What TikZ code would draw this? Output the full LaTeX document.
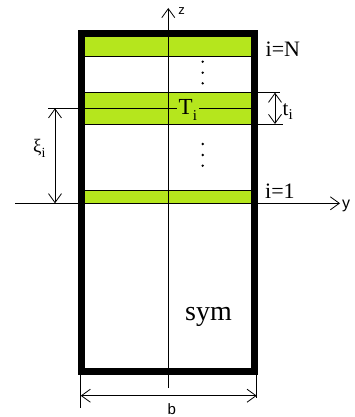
\documentclass[tikz,border=0pt]{standalone}
\usepackage{fontspec}
\setmainfont{Liberation Serif}
\newfontfamily\sansf{Liberation Sans}
\usetikzlibrary{arrows.meta}
\definecolor{lime}{RGB}{181,230,29}
\tikzset{
  thin line/.style={line width=0.8pt},
  dimarrow/.style={line width=0.8pt,{Straight Barb[length=9pt,width=13pt]}-{Straight Barb[length=9pt,width=13pt]}},
  axisarrow/.style={line width=0.8pt,-{Straight Barb[length=9pt,width=13pt]}},
  band/.style={fill=lime,draw=none},
  lab/.style={inner sep=0pt},
  dotmark/.style={circle,fill=black,inner sep=0pt,minimum size=2.6pt},
}
\begin{document}
\begin{tikzpicture}[x=1pt,y=-1pt]
\useasboundingbox (0,0) rectangle (355,417);
% green bands
\fill[band] (85,37) rectangle (251,56);
\fill[band] (85,92.7) rectangle (251,124);
\fill[band] (85,190) rectangle (251,203.3);
% coordinates
\coordinate (zbot) at (168.3,388);
\coordinate (ztop) at (168.3,8);
\coordinate (yleft) at (15,203.3);
\coordinate (yright) at (340,203.3);
\coordinate (xitop) at (48,108.3);
\coordinate (xiA) at (55,108.3);
\coordinate (xiB) at (55,203.3);
\coordinate (midR) at (251,108.3);
\coordinate (ttopL) at (85,92.7);
\coordinate (ttopR) at (280,92.7);
\coordinate (tbotL) at (85,124);
\coordinate (tbotR) at (283,124);
\coordinate (tA) at (275,92.7);
\coordinate (tB) at (275,124);
\coordinate (topbL) at (85,56);
\coordinate (topbR) at (251,56);
\coordinate (botbL) at (85,190);
\coordinate (botbR) at (251,190);
\coordinate (bA) at (80.7,395.7);
\coordinate (bB) at (256.7,395.7);
\coordinate (bLt) at (80.7,375);
\coordinate (bLb) at (80.7,408);
\coordinate (bRt) at (256.7,375);
\coordinate (bRb) at (256.7,398);
% band lines
\draw[thin line] (topbL) -- (topbR);
\draw[thin line] (ttopL) -- (ttopR);
\draw[thin line] (tbotL) -- (tbotR);
\draw[thin line] (botbL) -- (botbR);
% T label and mid line
\node[inner ysep=0pt,inner xsep=2pt,anchor=base west,font=\fontsize{23}{23}\selectfont] (T) at (176.5,114) {T\raisebox{-6pt}{\fontsize{15}{15}\selectfont i}};
\draw[thin line] (xitop) -- (xitop -| T.west);
\draw[thin line] (xitop -| T.east) -- (midR);
% axes
\draw[axisarrow] (zbot) -- (ztop);
\draw[axisarrow] (yleft) -- (yright);
% outer frame
\draw[line width=7pt] (81.7,34) rectangle (254.5,371.7);
% dimensions
\draw[dimarrow] (xiA) -- (xiB);
\draw[dimarrow] (tA) -- (tB);
\draw[dimarrow] (bA) -- (bB);
\draw[thin line] (bLt) -- (bLb);
\draw[thin line] (bRt) -- (bRb);
% dots
\foreach \yy/\nm in {61.7/d1,72.7/d2,83.3/d3,144/d4,155/d5,165.7/d6}
  \node[dotmark] (\nm) at (202.7,\yy) {};
% labels
\node[lab,font=\sansf\fontsize{13}{13}\selectfont] (zl) at (181.5,11) {z};
\node[lab,font=\sansf\fontsize{16}{16}\selectfont,anchor=west] (yl) at (342,206) {y};
\node[lab,font=\fontsize{22}{22}\selectfont,anchor=base west] (iN) at (265.5,56.5) {i=N};
\node[lab,font=\fontsize{22}{22}\selectfont,anchor=base west] (i1) at (265,198.3) {i=1};
\node[lab,font=\fontsize{21}{21}\selectfont,anchor=base west] (tl) at (282.5,115) {t\raisebox{-5pt}{\fontsize{15}{15}\selectfont i}};
\node[lab,font=\fontsize{19}{19}\selectfont,anchor=base west] (xil) at (33,152) {ξ\raisebox{-5pt}{\fontsize{14}{14}\selectfont i}};
\node[lab,font=\fontsize{28}{28}\selectfont,anchor=base] (sym) at (208.5,320) {sym};
\node[lab,font=\sansf\fontsize{15}{15}\selectfont] (bl) at (171.7,409) {b};
\end{tikzpicture}
\end{document}
